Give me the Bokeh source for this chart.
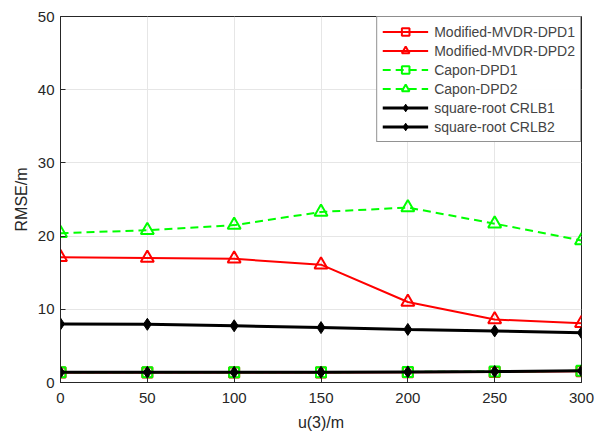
from bokeh.plotting import figure
from bokeh.models import Range1d, Legend, LegendItem, FixedTicker
from bokeh.embed import file_html
from bokeh.resources import INLINE

x = [0, 50, 100, 150, 200, 250, 300]
mvdr1 = [1.35, 1.35, 1.35, 1.35, 1.4, 1.45, 1.55]
mvdr2 = [17.1, 17.0, 16.9, 16.1, 11.0, 8.6, 8.1]
capon1 = [1.4, 1.4, 1.4, 1.4, 1.45, 1.5, 1.6]
capon2 = [20.4, 20.8, 21.5, 23.3, 23.9, 21.7, 19.4]
crlb1 = [1.4, 1.4, 1.4, 1.4, 1.45, 1.5, 1.6]
crlb2 = [8.0, 7.95, 7.75, 7.5, 7.25, 7.05, 6.8]

xticks = [0, 50, 100, 150, 200, 250, 300]
yticks = [0, 10, 20, 30, 40, 50]

FONT = "Liberation Sans"
GREEN = "#00ff00"

p = figure(width=603, height=433, output_backend="svg", toolbar_location=None,
           x_range=Range1d(0, 300), y_range=Range1d(0, 50),
           min_border_left=60, min_border_right=22, min_border_top=16, min_border_bottom=51)
p.outline_line_color = "#262626"
p.outline_line_width = 1
p.background_fill_color = "white"
p.border_fill_color = "white"

for ax in (p.xaxis[0], p.yaxis[0]):
    ax.major_tick_in = 5
    ax.major_tick_out = 0
    ax.minor_tick_line_color = None
    ax.axis_line_color = "#262626"
    ax.major_tick_line_color = "#262626"
    ax.major_label_text_font = FONT
    ax.major_label_text_font_size = "15px"
    ax.major_label_text_color = "#262626"
    ax.axis_label_text_font = FONT
    ax.axis_label_text_font_size = "16px"
    ax.axis_label_text_font_style = "normal"
    ax.axis_label_text_color = "#262626"
p.xaxis.ticker = FixedTicker(ticks=xticks)
p.yaxis.ticker = FixedTicker(ticks=yticks)
p.xaxis.axis_label = "u(3)/m"
p.yaxis.axis_label = "RMSE/m"
p.xaxis.major_label_standoff = 10
p.yaxis.major_label_standoff = 6
p.xaxis.axis_label_standoff = 8
p.yaxis.axis_label_standoff = 5
p.grid.grid_line_color = "#e6e6e6"
p.grid.grid_line_width = 1

items = []
def series(y, color, marker, dash, lw, size, fill, label):
    l = p.line(x, y, line_color=color, line_width=lw, line_dash=dash)
    s = p.scatter(x, y, marker=marker, size=size, line_color=color,
                  line_width=2 if fill is None else 1,
                  fill_color=fill if fill else None)
    items.append(LegendItem(label=label, renderers=[l, s]))

series(mvdr1, "red", "square", "solid", 2, 10, None, "Modified-MVDR-DPD1")
series(mvdr2, "red", "triangle", "solid", 2, 13, None, "Modified-MVDR-DPD2")
series(capon1, GREEN, "square", "8 5", 2, 10, None, "Capon-DPD1")
series(capon2, GREEN, "triangle", "8 5", 2, 13, None, "Capon-DPD2")
series(crlb1, "black", "diamond", "solid", 3, 12, "black", "square-root CRLB1")
series(crlb2, "black", "diamond", "solid", 3, 12, "black", "square-root CRLB2")

legend = Legend(items=items, location="top_right", label_text_font=FONT,
                label_text_font_size="14px", glyph_width=46, glyph_height=19,
                label_height=19, spacing=0, padding=5, margin=0,
                border_line_color="#262626", border_line_width=1,
                label_standoff=6)
p.add_layout(legend)

open("out.html", "w").write(file_html(p, INLINE))
